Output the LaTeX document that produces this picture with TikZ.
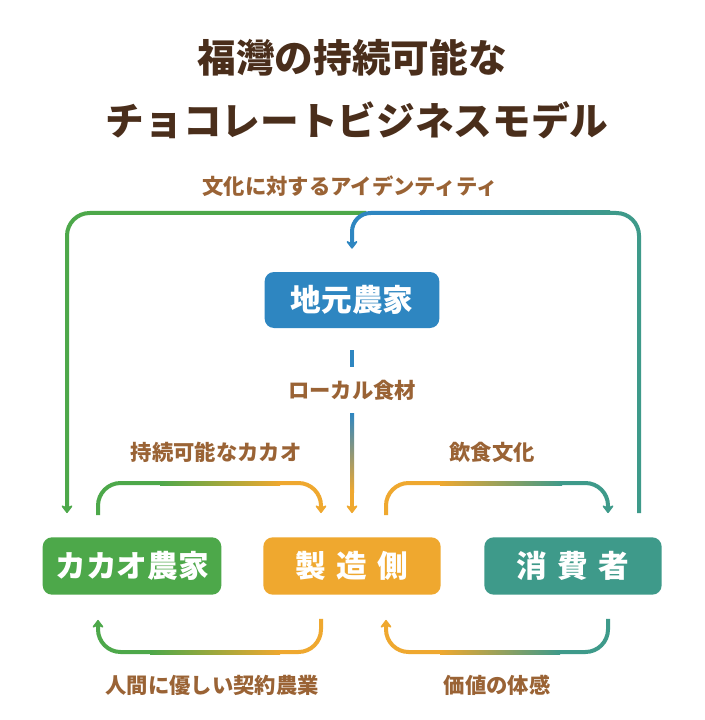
\documentclass[tikz,border=0pt]{standalone}
\usepackage{fontspec}
\setmainfont{Noto Sans CJK JP}
\usepackage{tikz}
\usetikzlibrary{positioning,calc,arrows.meta}

\definecolor{farmgreen}{HTML}{4DA84A}
\definecolor{localblue}{HTML}{2E86C1}
\definecolor{makerorange}{HTML}{EFA82F}
\definecolor{userteal}{HTML}{3E9A8A}
\definecolor{labelbrown}{HTML}{9A6335}
\definecolor{titlebrown}{HTML}{4A2E1B}

\begin{document}
% pixel grid of the sketch, y runs downwards
\begin{tikzpicture}[x=0.75pt, y=-0.75pt, >={Stealth[length=7pt, width=10.5pt, inset=2.5pt, round]}]
\tikzset{
    box/.style={rectangle, rounded corners=7pt, minimum width=133pt, minimum height=43pt, text=white, font=\bfseries\fontsize{23}{23}\selectfont},
    tag/.style={text=labelbrown, font=\bfseries\fontsize{16}{16}\selectfont},
    heading/.style={text=titlebrown, font=\bfseries\fontsize{29}{29}\selectfont},
    flow/.style={line width=3pt}
}
\fill[white] (0,0) rectangle (705,720);
\useasboundingbox (0,0) rectangle (705,720);

\node[heading] (title1) at (352,58) {福灣の持続可能な};
\node[heading] (title2) at (357,120) {チョコレートビジネスモデル};

\node[box, fill=localblue, minimum width=131pt, minimum height=42pt] (jimoto) at (352,300) {地元農家};
\node[box, fill=farmgreen, minimum width=134pt] (cacao) at (132,566) {カカオ農家};
\node[box, fill=makerorange] (maker) at (352,566) {製\hspace{8pt}造\hspace{8pt}側};
\node[box, fill=userteal] (user) at (573,566) {消\hspace{8pt}費\hspace{8pt}者};

\node[tag] (identity) at (350,186) {文化に対するアイデンティティ};
\node[tag] (localfood) at (352,390) {ローカル食材};
\node[tag] (sustain) at (216,452) {持続可能なカカオ};
\node[tag] (culture) at (492,452) {飲食文化};
\node[tag] (contract) at (212,685) {人間に優しい契約農業};
\node[tag] (value) at (497,685) {価値の体感};

% identity loop over the top
\coordinate (branch) at (366,213);
\draw[flow, farmgreen, ->, rounded corners=17pt] (branch) -| ($(cacao.north)+(-65,-24)$);
\draw[flow, userteal, rounded corners=17pt] ($(user.north)+(66,-24)$) |- (606,213);
\shade[left color=localblue, right color=userteal] (420,211) rectangle (610,215);
\draw[flow, localblue, ->, rounded corners=14pt] (424,213) -| ($(jimoto.north)+(0,-23)$);

% local food
\draw[flow, localblue, shorten >=6pt] ($(jimoto.south)+(0,22)$) -- (localfood);
\shade[top color=localblue, bottom color=makerorange] (350,413) rectangle (354,492);
\draw[flow, makerorange, ->] (352,490) -- ($(maker.north)+(0,-24)$);

% cacao to maker
\draw[flow, farmgreen, rounded corners=17pt] ($(cacao.north)+(-34,-22)$) |- (162,483);
\shade[left color=farmgreen, right color=makerorange] (160,481) rectangle (280,485);
\draw[flow, makerorange, ->, rounded corners=17pt] (278,483) -| ($(maker.north)+(-31,-24)$);

% maker to consumer
\draw[flow, makerorange, rounded corners=17pt] ($(maker.north)+(34,-22)$) |- (442,483);
\shade[left color=makerorange, right color=userteal] (440,481) rectangle (562,485);
\draw[flow, userteal, ->, rounded corners=17pt] (560,483) -| ($(user.north)+(35,-24)$);

% maker back to cacao
\draw[flow, makerorange, rounded corners=17pt] ($(maker.south)+(-31,24)$) |- (278,652);
\shade[left color=farmgreen, right color=makerorange] (150,650) rectangle (280,654);
\draw[flow, farmgreen, ->, rounded corners=17pt] (152,652) -| ($(cacao.south)+(-34,25)$);

% consumer back to maker
\draw[flow, userteal, rounded corners=17pt] ($(user.south)+(35,24)$) |- (558,652);
\shade[left color=makerorange, right color=userteal] (440,650) rectangle (560,654);
\draw[flow, makerorange, ->, rounded corners=17pt] (442,652) -| ($(maker.south)+(34,25)$);
\end{tikzpicture}
\end{document}
